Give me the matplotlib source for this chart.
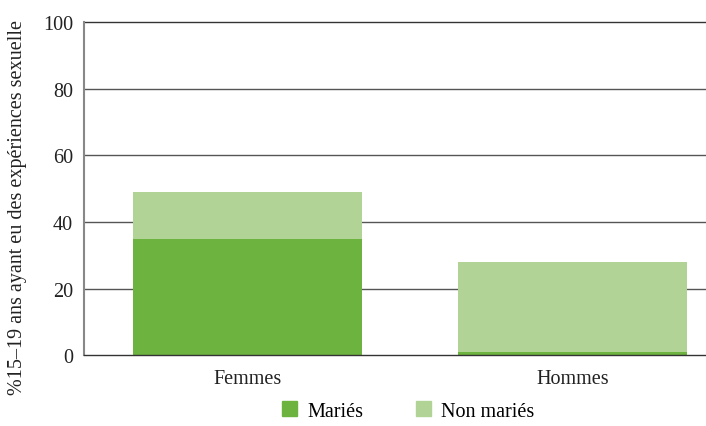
import matplotlib.pyplot as plt
from matplotlib.patches import Patch

# Données
categories = ["Femmes", "Hommes"]
maries = [35, 1]
non_maries = [14, 27]
yticks = [0, 20, 40, 60, 80, 100]

col_maries = "#6db33f"
col_non_maries = "#b2d396"

plt.rcParams['font.family'] = ['Liberation Serif', 'DejaVu Serif']

fig = plt.figure(figsize=(7.06, 4.27), dpi=100)
ax = fig.add_axes([0.119, 0.166, 0.881, 0.780])

x = range(len(categories))
ax.bar(x, maries, width=0.705, color=col_maries, zorder=3)
ax.bar(x, non_maries, width=0.705, bottom=maries, color=col_non_maries, zorder=3)

ax.set_ylim(0, 100)
ax.set_xlim(-0.503, 1.41)
ax.set_yticks(yticks)
ax.set_xticks(list(x))
ax.set_xticklabels(categories)
ax.tick_params(axis='y', length=0, pad=8, labelsize=14.5, colors='#222222')
ax.tick_params(axis='x', length=0, pad=10, labelsize=14.5, colors='#222222')

for t in yticks:
    c = '#333333' if t in (0, 100) else '#555555'
    ax.axhline(t, color=c, lw=1, zorder=4 if t == 0 else 1, clip_on=False)

for s in ['top', 'right', 'bottom']:
    ax.spines[s].set_visible(False)
ax.spines['left'].set_color('#888888')
ax.spines['left'].set_linewidth(1.5)

ax.set_ylabel("%15–19 ans ayant eu des expériences sexuelle", fontsize=14.5, color='#222222')
ax.yaxis.set_label_coords(-0.092, 0.446)

handles = [Patch(color=col_maries, label="Mariés"), Patch(color=col_non_maries, label="Non mariés")]
fig.legend(handles=handles, loc='lower center', bbox_to_anchor=(0.578, -0.03), ncol=2, frameon=False,
           fontsize=14.5, handlelength=0.75, handleheight=0.75, handletextpad=0.5, columnspacing=2.6)

plt.savefig('out.png', dpi=100)
